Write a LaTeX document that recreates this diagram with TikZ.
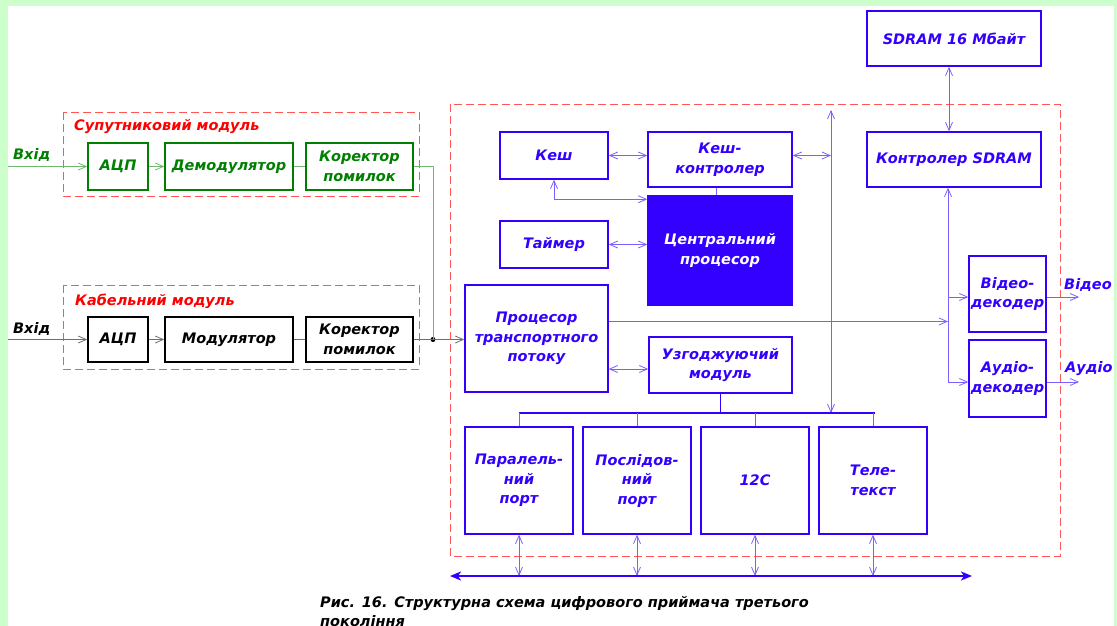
\documentclass[tikz,border=0pt]{standalone}
\usepackage{fontspec}
\setmainfont{DejaVu Sans}
\usetikzlibrary{arrows.meta,calc}

\definecolor{framegreen}{RGB}{204,255,204}
\definecolor{ublue}{RGB}{51,0,255}
\definecolor{lblue}{RGB}{125,95,255}
\definecolor{dgreen}{RGB}{0,128,0}
\definecolor{lgreen}{RGB}{110,185,110}
\definecolor{dashred}{RGB}{255,85,85}
\definecolor{tred}{RGB}{255,0,0}
\definecolor{lgray}{RGB}{110,110,110}

\tikzset{
  lbl/.style={font=\fontsize{14.5}{19.5}\selectfont\bfseries\itshape, align=center, inner sep=0pt},
  blk/.style={draw, line width=1.5pt, lbl},
  bbox/.style={blk, draw=ublue, text=ublue},
  gbox/.style={blk, draw=dgreen, text=dgreen},
  kbox/.style={blk, draw=black, text=black},
  module/.style={draw=dashred, line width=1pt, dash pattern=on 8pt off 4pt},
  barb/.tip={Straight Barb[length=8pt,width=7pt]},
  one/.style={-barb},
  both/.style={barb-barb},
  bwire/.style={draw=lblue, line width=0.8pt},
  gwire/.style={draw=lgreen, line width=0.8pt},
  kwire/.style={draw=lgray, line width=0.8pt},
}

\begin{document}
\begin{tikzpicture}[x=1pt,y=-1pt]
  % page frame
  \useasboundingbox (0,0) rectangle (1117,626);
  \fill[framegreen] (0,0) rectangle (1117,626);
  \fill[white] (8,6) rectangle (1114,626);

  % module frames
  \draw[module] (63,112) rectangle (419,196);
  \draw[module] (63,285) rectangle (419,369);
  \draw[module] (450,104) rectangle (1060,556);

  % satellite module
  \node[lbl, text=tred, anchor=west] (sattitle) at (74,127) {Супутниковий модуль};
  \node[lbl, text=dgreen, anchor=west] (satin) at (13,155) {Вхід};
  \node[gbox, minimum width=60pt, minimum height=47pt] (adc1) at (118,166.5) {АЦП};
  \node[gbox, minimum width=128pt, minimum height=47pt] (dem) at (229,166.5) {Демодулятор};
  \node[gbox, minimum width=107pt, minimum height=47pt] (cor1) at (359.5,166.5) {Коректор\\помилок};
  \coordinate (in1) at (8,166.5);

  % cable module
  \node[lbl, text=tred, anchor=west] (cabtitle) at (75,301) {Кабельний модуль};
  \node[lbl, text=black, anchor=west] (cabin) at (13,329) {Вхід};
  \node[kbox, minimum width=60pt, minimum height=45pt] (adc2) at (118,339.5) {АЦП};
  \node[kbox, minimum width=128pt, minimum height=45pt] (mod) at (229,339.5) {Модулятор};
  \node[kbox, minimum width=107pt, minimum height=45pt] (cor2) at (359.5,339.5) {Коректор\\помилок};
  \coordinate (in2) at (8,339.5);
  \node[circle, fill=black, inner sep=0pt, minimum size=5pt] (jn) at (433,339.5) {};

  % processor block
  \node[bbox, minimum width=108pt, minimum height=47pt] (kesh) at (554,155.5) {Кеш};
  \node[bbox, minimum width=144pt, minimum height=55pt] (kc) at (720,159.5) {Кеш-\\контролер};
  \node[bbox, minimum width=108pt, minimum height=47pt] (tmr) at (554,244.5) {Таймер};
  \node[bbox, fill=ublue, text=white, minimum width=144pt, minimum height=109pt] (cpu) at (720,250.5) {Центральний\\процесор};
  \node[bbox, minimum width=143pt, minimum height=107pt] (tsp) at (536.5,338.5) {Процесор\\транспортного\\потоку};
  \node[bbox, minimum width=143pt, minimum height=56pt] (uzg) at (720.5,365) {Узгоджуючий\\модуль};

  \node[bbox, minimum width=108pt, minimum height=107pt] (p1) at (519,480.5) {Паралель-\\ний\\порт};
  \node[bbox, minimum width=108pt, minimum height=107pt] (p2) at (637,480.5) {Послідов-\\ний\\порт};
  \node[bbox, minimum width=108pt, minimum height=107pt] (p3) at (755,480.5) {12С};
  \node[bbox, minimum width=108pt, minimum height=107pt] (p4) at (873,480.5) {Теле-\\текст};

  \node[bbox, minimum width=174pt, minimum height=55pt] (sdram) at (954,38.5) {SDRAM 16 Мбайт};
  \node[bbox, minimum width=174pt, minimum height=55pt] (sdc) at (954,159.5) {Контролер SDRAM};
  \node[bbox, minimum width=77pt, minimum height=76pt] (vdec) at (1007.5,294) {Відео-\\декодер};
  \node[bbox, minimum width=77pt, minimum height=77pt] (adec) at (1007.5,378.5) {Аудіо-\\декодер};
  \node[lbl, text=ublue, anchor=west] (vout) at (1064,285) {Відео};
  \node[lbl, text=ublue, anchor=west] (aout) at (1065,369) {Аудіо};

  % bus and junction points
  \coordinate (bustop) at (831,110);
  \coordinate (busbot) at (831,413);
  \coordinate (pl) at (519,413);
  \coordinate (pr) at (875,413);
  \coordinate (dbus) at (948,382);
  \coordinate (sysl) at (450,576);
  \coordinate (sysr) at (972,576);

  % satellite path
  \draw[gwire, one] (in1) -- (adc1.west);
  \draw[gwire, one] (adc1.east) -- (dem.west);
  \draw[gwire] (dem.east) -- (cor1.west);
  \draw[gwire] (cor1.east) -| (jn.center);

  % cable path
  \draw[kwire, one] (in2) -- (adc2.west);
  \draw[kwire, one] (adc2.east) -- (mod.west);
  \draw[kwire] (mod.east) -- (cor2.west);
  \draw[kwire] (cor2.east) -- (jn.center);
  \draw[kwire, one] (jn.center) -- (jn -| tsp.west);

  % processor links
  \draw[bwire, both] (kesh.east) -- (kesh.east -| kc.west);
  \draw[bwire, both] (kc.east |- kesh.east) -- (kesh.east -| bustop);
  \draw[bwire, both] (bustop) -- (busbot);
  \draw[bwire] ([xshift=-4pt]kc.south) -- ([xshift=-4pt]kc.south |- cpu.north);
  \draw[bwire, both] (kesh.south) |- ([yshift=-4pt]cpu.north west);
  \draw[bwire, both] (tmr.east) -- (tmr.east -| cpu.west);
  \draw[bwire, both] ([yshift=-4pt]tsp.east |- uzg.west) -- ([yshift=-4pt]uzg.west);

  % transport stream to decoders
  \draw[bwire, one] ([yshift=17pt]tsp.east) -- ([yshift=17pt]tsp.east -| dbus);
  \draw[bwire, one] (dbus) -- (dbus |- sdc.south);
  \draw[bwire, one] (dbus |- 0,297) -- (vdec.west |- 0,297);
  \draw[bwire, one] (dbus) -- (dbus -| adec.west);
  \draw[bwire, one] (vdec.east |- 0,297) -- (1079,297);
  \draw[bwire, one] (adec.east |- dbus) -- (1079,382);
  \draw[bwire, both] ([xshift=-5pt]sdram.south) -- ([xshift=-5pt]sdc.north);

  % peripheral bus
  \draw[draw=ublue, line width=1.2pt] (uzg.south) -- (uzg.south |- pl);
  \draw[draw=ublue, line width=1.2pt] (pl) -- (pr);
  \foreach \p in {p1,p2,p3,p4} {
    \draw[bwire] (\p.north) -- (\p.north |- pl);
    \draw[bwire, both] (\p.south) -- (\p.south |- sysl);
  }
  \draw[draw=ublue, line width=2.2pt, {Stealth[length=11pt,width=9pt,inset=3pt]}-{Stealth[length=11pt,width=9pt,inset=3pt]}] (sysl) -- (sysr);

  % caption
  \node[lbl, anchor=north west, align=left, text=black] (caption) at (320,596)
    {Рис. 16. Структурна схема цифрового приймача третього\\покоління};
\end{tikzpicture}
\end{document}
